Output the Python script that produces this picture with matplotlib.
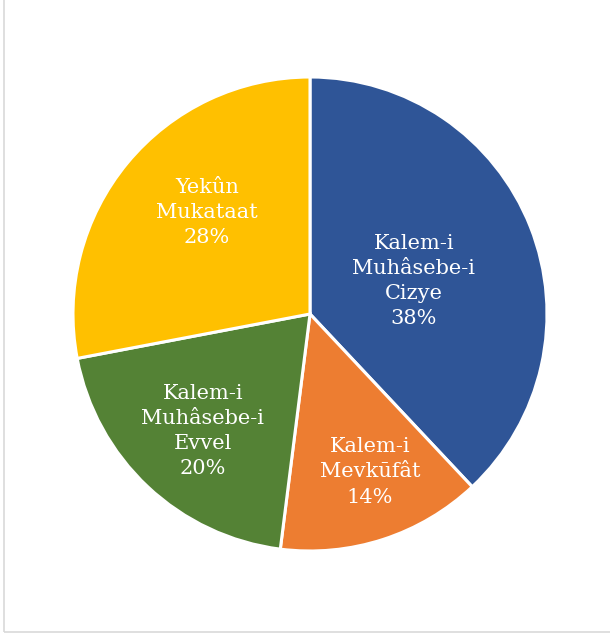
import numpy as np
import matplotlib
matplotlib.use('Agg')
import matplotlib.pyplot as plt
from matplotlib.patches import Rectangle

# data
labels = ["Kalem-i\nMuhâsebe-i\nCizye", "Kalem-i\nMevkūfât",
          "Kalem-i\nMuhâsebe-i\nEvvel", "Yekûn\nMukataat"]
shares = [38, 14, 20, 28]
colors = ["#2F5597", "#ED7D31", "#548235", "#FFC000"]
# label placement inside each wedge (radius fraction, angle shift in degrees)
label_r = [0.46, 0.713, 0.67, 0.61]
label_shift = [-4.0, 2.8, 0.8, -5.0]

W, H = 610, 639
fig = plt.figure(figsize=(W / 100, H / 100), dpi=100)

# chart border (top/right edges cut off in reference)
fig.patches.append(Rectangle((4 / W, 7 / H), 1.0, 1.0, transform=fig.transFigure,
                             fill=False, edgecolor="#D9D9D9", linewidth=1.2))

cx, cy, R = 310, 314, 237
ax = fig.add_axes([(cx - R) / W, (H - cy - R) / H, 2 * R / W, 2 * R / H])
wedges, _ = ax.pie(shares, colors=colors, startangle=90, counterclock=False,
                   wedgeprops=dict(edgecolor="white", linewidth=2.2))
ax.set_xlim(-1, 1)
ax.set_ylim(-1, 1)
ax.set_aspect("equal")
ax.axis("off")

for w, lab, s, r, d in zip(wedges, labels, shares, label_r, label_shift):
    ang = np.deg2rad((w.theta1 + w.theta2) / 2 + d)
    ax.text(r * np.cos(ang), r * np.sin(ang), "%s\n%d%%" % (lab, s),
            ha="center", va="center", color="white", fontsize=15,
            family="DejaVu Serif", linespacing=1.41)

fig.savefig("out.png", dpi=100)
